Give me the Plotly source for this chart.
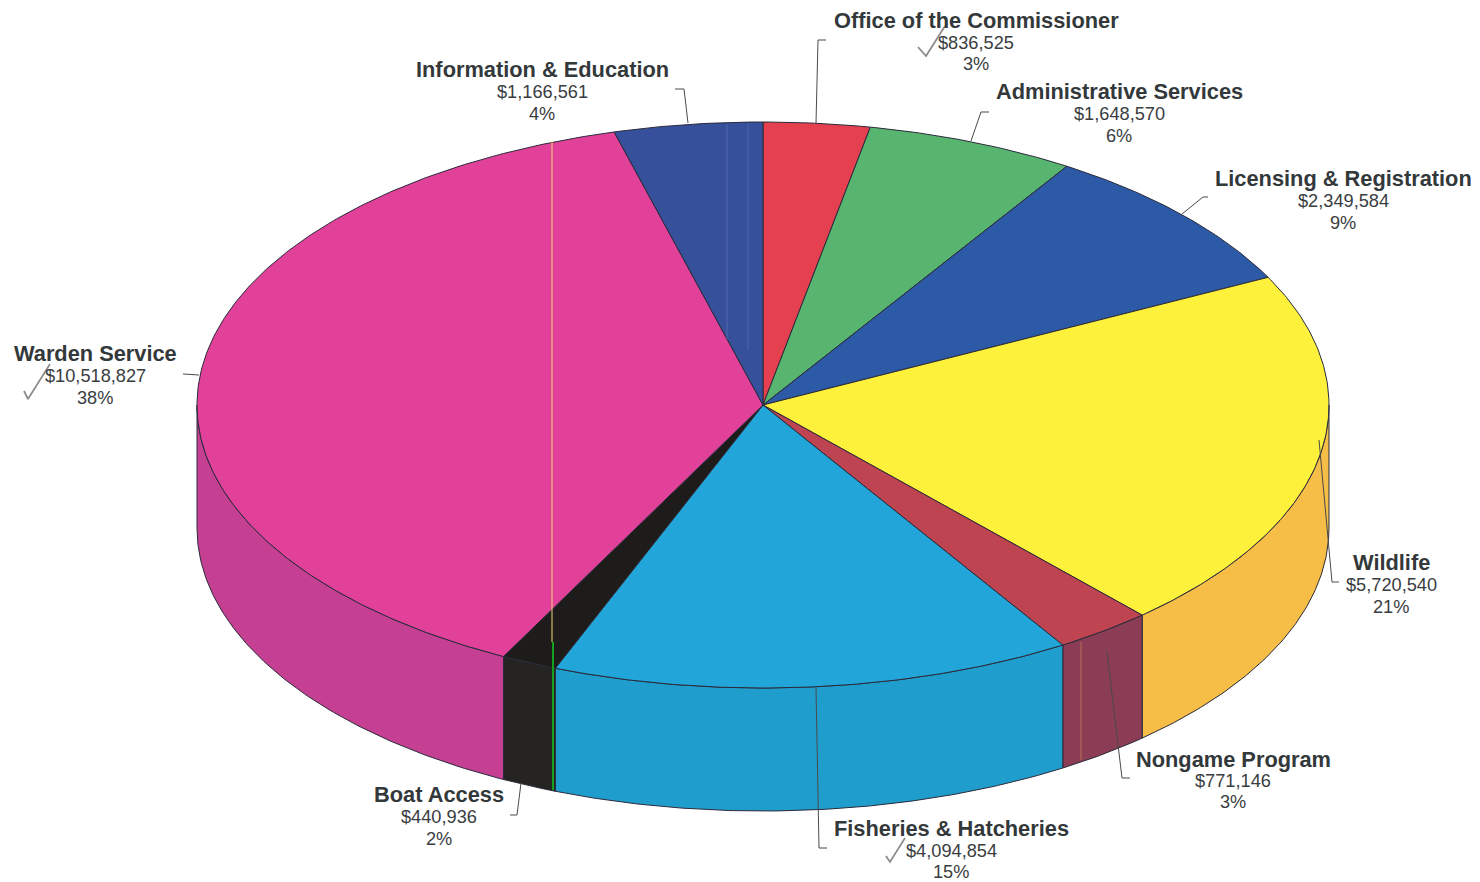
import math
import plotly.graph_objects as go

# ---- data, clockwise from 12 o'clock ----
categories = ["Office of the Commissioner", "Administrative Services", "Licensing & Registration",
              "Wildlife", "Nongame Program", "Fisheries & Hatcheries", "Boat Access",
              "Warden Service", "Information & Education"]
values = [836525, 1648570, 2349584, 5720540, 771146, 4094854, 440936, 10518827, 1166561]
percents = ["3%", "6%", "9%", "21%", "3%", "15%", "2%", "38%", "4%"]

# ---- styles ----
top_colors = ["#e5404f", "#58b56f", "#2c5aa6", "#fdf13c", "#bd4450", "#22a5d8", "#1e1c1a", "#e2419a", "#36509c"]
side_colors = ["#c93a48", "#4a9c5e", "#234d92", "#f6bd47", "#8b3d55", "#1f9ecd", "#262422", "#c53f93", "#2d4486"]

# ---- pie geometry (pixels on the page) ----
CX, CY, RX, RY, DEPTH = 763, 405, 566, 283, 123
W, H = 1480, 882
total = sum(values)


def rim(theta_deg, drop=0.0):
    t = math.radians(theta_deg)
    return CX + RX * math.sin(t), CY - RY * math.cos(t) + drop


def arc(a, b, drop=0.0, step=0.5):
    n = max(2, int(abs(b - a) / step) + 1)
    return [rim(a + (b - a) * i / (n - 1), drop) for i in range(n)]


bounds = [0.0]
for v in values:
    bounds.append(bounds[-1] + 360.0 * v / total)

fig = go.Figure()
OUTLINE = dict(color="#2a2a3a", width=1)


def poly(pts, color, name):
    fig.add_trace(go.Scatter(x=[p[0] for p in pts], y=[p[1] for p in pts], mode="lines",
                             fill="toself", fillcolor=color, line=OUTLINE, name=name,
                             hoverinfo="name", showlegend=False))


# side walls (only the front half of the rim, 90..270 degrees)
for i, cat in enumerate(categories):
    a, b = max(bounds[i], 90.0), min(bounds[i + 1], 270.0)
    if a < b:
        pts = arc(a, b) + arc(b, a, DEPTH)
        pts.append(pts[0])
        poly(pts, side_colors[i], cat + " side")

# top faces
for i, cat in enumerate(categories):
    pts = [(CX, CY)] + arc(bounds[i], bounds[i + 1]) + [(CX, CY)]
    poly(pts, top_colors[i], cat)

# ---- scan artefacts and annotations drawn by hand on the page ----
streaks = [
    ([552, 552], [141, 642], "#f0d27a", 1),
    ([553, 553], [642, 790], "#14a01e", 2),
    ([727, 727], [124, 340], "rgba(110,130,190,0.35)", 1.5),
    ([748, 748], [123, 350], "rgba(110,130,190,0.30)", 1.5),
    ([1081, 1081], [642, 760], "rgba(190,120,90,0.45)", 2),
]
for xs, ys, col, w in streaks:
    fig.add_trace(go.Scatter(x=xs, y=ys, mode="lines", line=dict(color=col, width=w),
                             hoverinfo="skip", showlegend=False))

leaders = [
    ([816, 818, 826], [123, 40, 40]),
    ([971, 981, 989], [141, 112, 112]),
    ([1182, 1203, 1208], [214, 197, 197]),
    ([1319, 1332, 1339], [440, 582, 582]),
    ([1107, 1122, 1130], [652, 778, 778]),
    ([816, 819, 827], [688, 848, 848]),
    ([521, 517, 510], [783, 815, 815]),
    ([183, 199], [374, 375]),
    ([688, 684, 675], [123, 89, 89]),
]
for xs, ys in leaders:
    fig.add_trace(go.Scatter(x=xs, y=ys, mode="lines", line=dict(color="#4a4a4a", width=1),
                             hoverinfo="skip", showlegend=False))

checks = [
    ([918, 926, 945], [47, 56, 26]),
    ([24, 28, 50], [391, 399, 364]),
    ([886, 890, 905], [856, 862, 838]),
]
for xs, ys in checks:
    fig.add_trace(go.Scatter(x=xs, y=ys, mode="lines", line=dict(color="#8a8a8a", width=1.7),
                             hoverinfo="skip", showlegend=False))

# label placement: centre x, then y of the three text rows
label_pos = [
    (976, 20, 43, 64),
    (1119, 91, 114, 136),
    (1343, 178, 201, 223),
    (1391, 562, 585, 607),
    (1233, 759, 781, 802),
    (951, 828, 851, 872),
    (439, 794, 817, 839),
    (95, 353, 376, 398),
    (542, 69, 92, 114),
]
FONT = "Liberation Sans, Arial, sans-serif"
ann = []
for cat, v, pct, (x, y1, y2, y3) in zip(categories, values, percents, label_pos):
    ann.append(dict(x=x, y=y1, text=f"<b>{cat}</b>", font=dict(family=FONT, size=21.8, color="#33383a")))
    ann.append(dict(x=x, y=y2, text=f"${v:,}", font=dict(family=FONT, size=18.2, color="#3a3d3f")))
    ann.append(dict(x=x, y=y3, text=pct, font=dict(family=FONT, size=18.2, color="#3a3d3f")))
for a in ann:
    a.update(xref="x", yref="y", showarrow=False, xanchor="center", yanchor="middle")

fig.update_layout(
    width=W, height=H, margin=dict(l=0, r=0, t=0, b=0), autosize=False,
    paper_bgcolor="white", plot_bgcolor="white", showlegend=False, annotations=ann,
    xaxis=dict(range=[0, W], visible=False, fixedrange=True),
    yaxis=dict(range=[H, 0], visible=False, fixedrange=True),
)
fig.write_html("out.html", config=dict(displayModeBar=False),
               post_script="document.body.style.margin='0';document.documentElement.style.overflow='hidden';")
